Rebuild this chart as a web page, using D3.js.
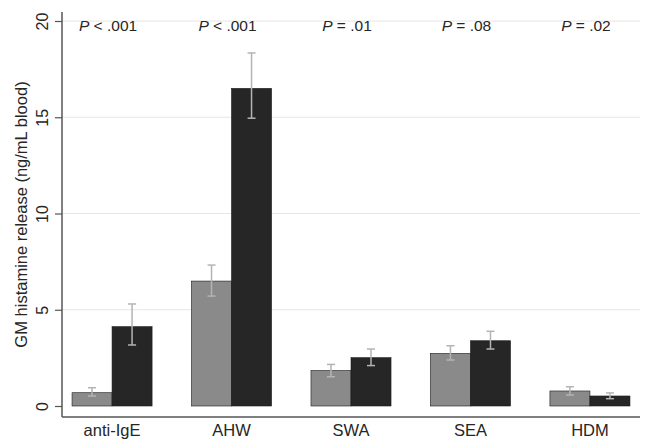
<!DOCTYPE html>
<html>
<head>
<meta charset="utf-8">
<script src="https://cdn.jsdelivr.net/npm/d3@7"></script>
<style>
  body { margin: 0; background: #fff; }
  text { font-family: "Liberation Sans", Arial, sans-serif; fill: #262626; }
</style>
</head>
<body>
<svg id="chart" width="645" height="441"></svg>
<script>
const categories = ['anti-IgE', 'AHW', 'SWA', 'SEA', 'HDM']
const pLabels = ['< .001', '< .001', '= .01', '= .08', '= .02']
// series 1 (gray) and series 2 (black): mean, lower, upper
const grayMean = [0.69, 6.49, 1.84, 2.73, 0.78]
const grayLow = [0.52, 5.71, 1.52, 2.39, 0.57]
const grayHigh = [0.95, 7.32, 2.16, 3.13, 1.0]
const blackMean = [4.12, 16.5, 2.51, 3.39, 0.52]
const blackLow = [3.17, 14.95, 2.1, 2.96, 0.38]
const blackHigh = [5.3, 18.34, 2.96, 3.88, 0.68]
const yTicks = [0, 5, 10, 15, 20]

const svg = d3.select('#chart')
const mLeft = 62, mRight = 640, mTop = 21, mBottom = 406

let y = d3.scaleLinear().domain([0, 20]).range([mBottom, mTop])
let x = d3.scaleBand().domain(categories).range([mLeft, mRight])
  .paddingInner(0.33).paddingOuter(0.084)
let xs = d3.scaleBand().domain([0, 1]).range([0, x.bandwidth()])

// gridlines
svg.append('g').selectAll('line')
  .data(yTicks.slice(1))
  .enter().append('line')
  .attr('x1', mLeft).attr('x2', mRight)
  .attr('y1', d => y(d)).attr('y2', d => y(d))
  .attr('stroke', '#e6e6e6').attr('stroke-width', 1)

let rows = categories.map((c, i) => ({
  cat: c,
  bars: [
    { s: 0, v: grayMean[i], lo: grayLow[i], hi: grayHigh[i] },
    { s: 1, v: blackMean[i], lo: blackLow[i], hi: blackHigh[i] }
  ]
}))
let colors = ['#8a8a8a', '#262626']

let group = svg.append('g').selectAll('g')
  .data(rows)
  .enter().append('g')
  .attr('transform', d => `translate(${x(d.cat)},0)`)

group.selectAll('rect')
  .data(d => d.bars)
  .enter().append('rect')
  .attr('x', d => xs(d.s))
  .attr('width', xs.bandwidth())
  .attr('y', d => y(d.v))
  .attr('height', d => y(0) - y(d.v))
  .attr('fill', d => colors[d.s])
  .attr('stroke', '#1a1a1a').attr('stroke-width', 0.6)

// error bars
let err = group.selectAll('g.err')
  .data(d => d.bars)
  .enter().append('g')
  .attr('class', 'err')
  .attr('stroke', '#b4b4b4').attr('stroke-width', 1.5)
err.append('line')
  .attr('x1', d => xs(d.s) + xs.bandwidth() / 2)
  .attr('x2', d => xs(d.s) + xs.bandwidth() / 2)
  .attr('y1', d => y(d.lo)).attr('y2', d => y(d.hi))
err.selectAll('line.cap')
  .data(d => [[d, d.lo], [d, d.hi]])
  .enter().append('line')
  .attr('class', 'cap')
  .attr('x1', d => xs(d[0].s) + xs.bandwidth() / 2 - 4)
  .attr('x2', d => xs(d[0].s) + xs.bandwidth() / 2 + 4)
  .attr('y1', d => y(d[1])).attr('y2', d => y(d[1]))

// P values
let pt = svg.append('g').selectAll('text')
  .data(categories)
  .enter().append('text')
  .attr('x', d => x(d) + x.bandwidth() / 2 - 4)
  .attr('y', 31)
  .attr('text-anchor', 'middle')
  .style('font-size', '15.5px')
pt.append('tspan').style('font-style', 'italic').text('P')
pt.append('tspan').text((d, i) => ' ' + pLabels[i])

// y axis
let yAxis = svg.append('g')
  .attr('transform', `translate(${mLeft},0)`)
  .call(d3.axisLeft(y).tickValues(yTicks).tickSize(7).tickPadding(0))
yAxis.select('.domain').attr('d', `M0,12V417`).attr('stroke', '#555').attr('stroke-width', 1.5)
yAxis.selectAll('.tick line').attr('stroke', '#555').attr('stroke-width', 1.2)
yAxis.selectAll('.tick text')
  .attr('transform', 'rotate(-90)')
  .attr('x', 0).attr('y', -14)
  .attr('dy', 0)
  .attr('text-anchor', 'middle')
  .style('font-size', '16px')
  .style('font-family', '"Liberation Sans", Arial, sans-serif')
  .attr('fill', '#262626')

// x axis
let xAxis = svg.append('g')
  .attr('transform', `translate(0,417)`)
  .call(d3.axisBottom(x).tickSize(0).tickPadding(7))
xAxis.select('.domain').attr('d', `M${mLeft},0H${mRight}`).attr('stroke', '#555').attr('stroke-width', 1.5)
xAxis.selectAll('.tick text')
  .style('font-size', '16.5px')
  .style('font-family', '"Liberation Sans", Arial, sans-serif')
  .attr('fill', '#262626')

svg.append('text')
  .attr('transform', `translate(27,${(12 + 417) / 2}) rotate(-90)`)
  .attr('text-anchor', 'middle')
  .style('font-size', '16.5px')
  .text('GM histamine release (ng/mL blood)')
</script>
</body>
</html>
